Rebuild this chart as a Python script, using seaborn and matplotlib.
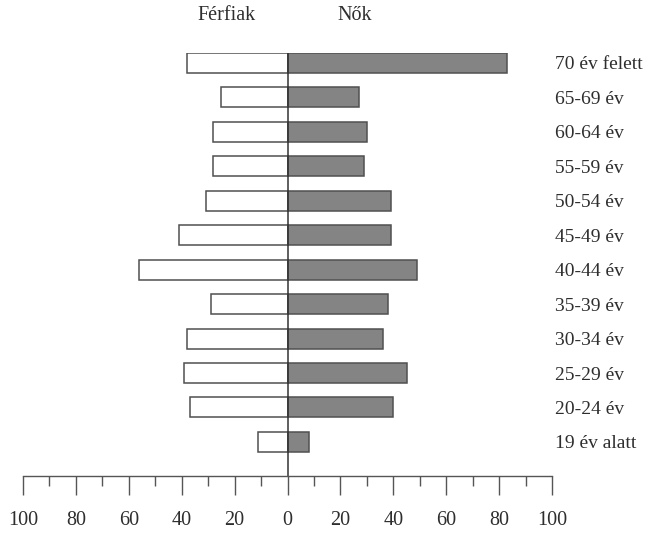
import numpy as np
import pandas as pd
import matplotlib.pyplot as plt
import seaborn as sns
from matplotlib.ticker import MultipleLocator, FuncFormatter

korcsoport = ["70 év felett", "65-69 év", "60-64 év", "55-59 év", "50-54 év", "45-49 év",
              "40-44 év", "35-39 év", "30-34 év", "25-29 év", "20-24 év", "19 év alatt"]
ferfiak = [38, 25, 28, 28, 31, 41, 56, 29, 38, 39, 37, 11]
nok = [83, 27, 30, 29, 39, 39, 49, 38, 36, 45, 40, 8]

sns.set_style("white")
plt.rcParams['font.family'] = ['Liberation Serif', 'DejaVu Serif']
plt.rcParams['font.size'] = 14

fig = plt.figure(figsize=(6.52, 5.33), dpi=100)
ax = fig.add_axes([23/652, 1 - 476/533, 529/652, 423/533])

df = pd.DataFrame({"kor": korcsoport, "ferfi": [-v for v in ferfiak], "no": nok})
sns.barplot(data=df, x="ferfi", y="kor", orient="h", width=0.58, color="white",
            edgecolor="#505050", linewidth=1.1, ax=ax)
sns.barplot(data=df, x="no", y="kor", orient="h", width=0.58, color="#848484",
            edgecolor="#505050", linewidth=1.1, ax=ax)

ax.axvline(0, color="#333333", lw=1.1)
ax.set_xlim(-100, 100)
ax.set_ylim(11.99, -0.29)

# kategóriák jobb oldalon
ax.yaxis.tick_right()
ax.tick_params(axis="y", length=0, pad=2, labelsize=14, colors="#2e2e2e")
ax.set_ylabel("")
ax.set_xlabel("")

ax.xaxis.set_major_locator(MultipleLocator(20))
ax.xaxis.set_minor_locator(MultipleLocator(10))
ax.xaxis.set_major_formatter(FuncFormatter(lambda v, p: f"{abs(int(round(v)))}"))
ax.tick_params(axis="x", which="major", direction="out", length=14, width=1,
               color="#555555", pad=11, labelsize=14.5, labelcolor="#2e2e2e", bottom=True)
ax.tick_params(axis="x", which="minor", direction="out", length=7, width=1,
               color="#555555", bottom=True)

for s in ["top", "left", "right"]:
    ax.spines[s].set_visible(False)
ax.spines["bottom"].set_color("#555555")
ax.spines["bottom"].set_linewidth(1)

fig.text(227/652, 1 - 16/533, "Férfiak", ha="center", va="center", fontsize=14.5, color="#2e2e2e")
fig.text(355/652, 1 - 15/533, "Nők", ha="center", va="center", fontsize=14.5, color="#2e2e2e")

fig.savefig("out.png", dpi=100)
